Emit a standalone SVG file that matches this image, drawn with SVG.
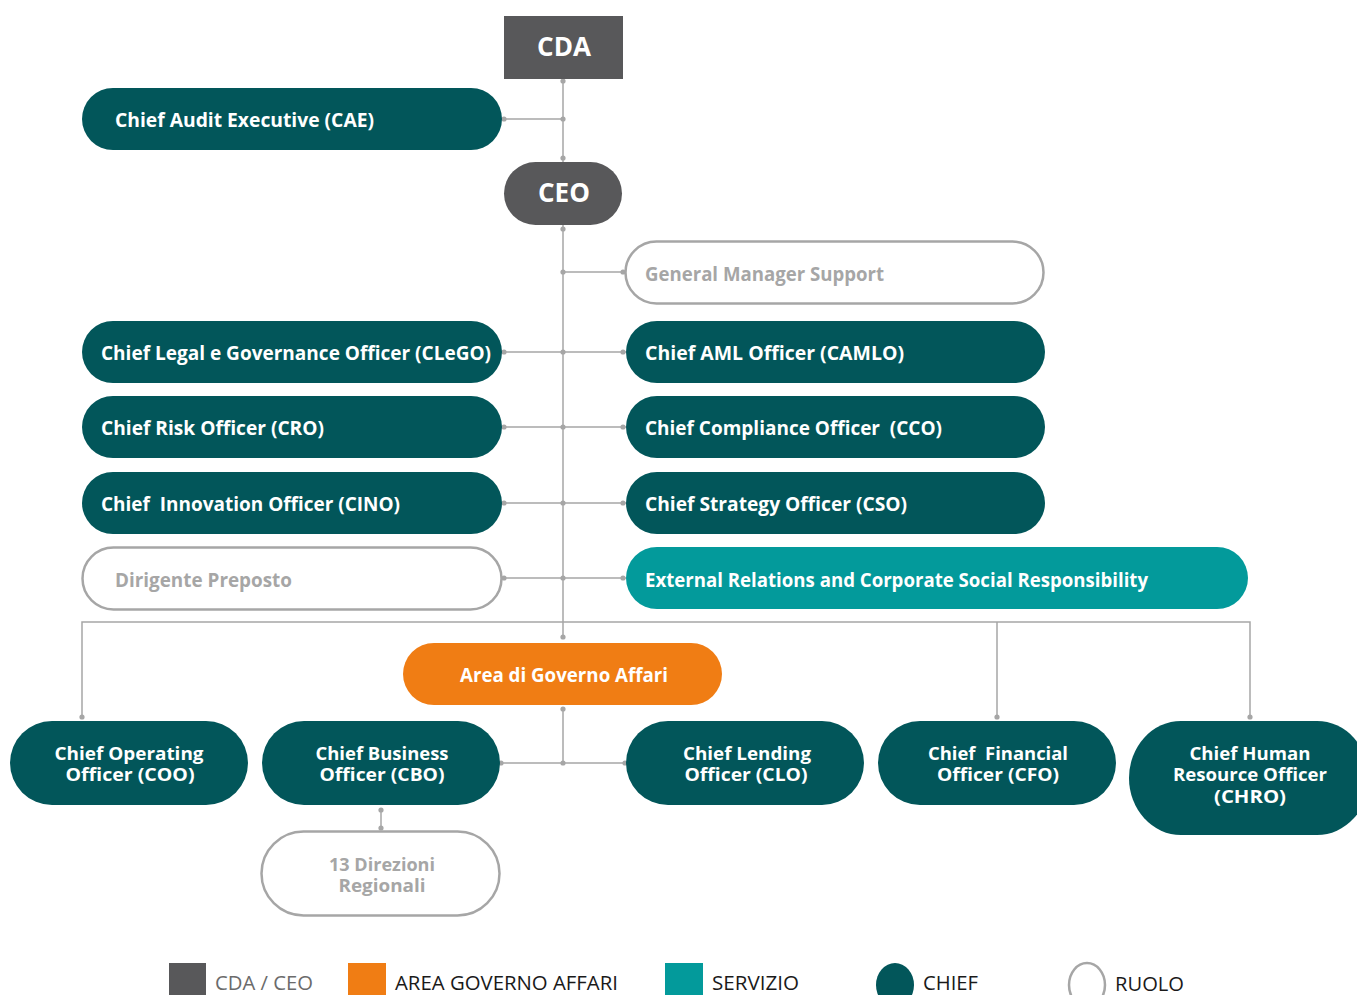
<svg xmlns="http://www.w3.org/2000/svg" width="1357" height="995" viewBox="0 0 1357 995">
<style>
.chief{fill:#02565a}
.gray{fill:#58585a}
.serv{fill:#039a9b}
.area{fill:#f07d14}
.ruolo{fill:#fff;stroke:#a6a6a6;stroke-width:2.5}
.t{font-family:"Open Sans","Noto Sans",sans-serif;font-weight:700;font-size:19.5px;fill:#fff}
.tc{font-family:"Open Sans","Noto Sans",sans-serif;font-weight:700;font-size:20px;fill:#fff;text-anchor:middle}
.t2{font-size:18px}
.big{font-size:26px}
.tg{fill:#a6a6a6}
.ln{stroke:#a6a6a6;stroke-width:1.5;fill:none}
.dot{fill:#a6a6a6}
.lg{font-family:"Open Sans","Noto Sans",sans-serif;font-weight:400;font-size:20px;fill:#1a1a1a}
.lgg{fill:#6b6b6b}
</style>
<rect width="1357" height="995" fill="#fff"/>
<g id="connectors">
<path class="ln" d="M563 79V637M502 119H563M563 272H624M502 352H626M502 427H626M502 503H626M502 578H626M82 717V622H1250V717M997 622V717M563 709V763M501 763H625M381 809V828"/>
<g class="dot">
<circle cx="563" cy="81" r="2.6"/><circle cx="563" cy="119" r="2.6"/><circle cx="504" cy="119" r="2.6"/><circle cx="563" cy="158" r="2.6"/><circle cx="563" cy="229" r="2.6"/>
<circle cx="563" cy="272" r="2.6"/><circle cx="623" cy="272" r="2.6"/>
<circle cx="504" cy="352" r="2.6"/><circle cx="563" cy="352" r="2.6"/><circle cx="623" cy="352" r="2.6"/>
<circle cx="504" cy="427" r="2.6"/><circle cx="563" cy="427" r="2.6"/><circle cx="623" cy="427" r="2.6"/>
<circle cx="504" cy="503" r="2.6"/><circle cx="563" cy="503" r="2.6"/><circle cx="623" cy="503" r="2.6"/>
<circle cx="504" cy="578" r="2.6"/><circle cx="563" cy="578" r="2.6"/><circle cx="623" cy="578" r="2.6"/>
<circle cx="563" cy="637" r="2.6"/><circle cx="82" cy="717" r="2.6"/><circle cx="997" cy="717" r="2.6"/><circle cx="1250" cy="717" r="2.6"/>
<circle cx="563" cy="709" r="2.6"/><circle cx="501" cy="763" r="2.6"/><circle cx="563" cy="763" r="2.6"/><circle cx="625" cy="763" r="2.6"/>
<circle cx="381" cy="810" r="2.6"/><circle cx="381" cy="828" r="2.6"/>
</g>
</g>
<g id="cda"><rect class="gray" x="504" y="16" width="119" height="63"/><text class="tc big" x="564" y="56" textLength="54" lengthAdjust="spacingAndGlyphs">CDA</text></g>
<g id="cae"><rect class="chief" x="82" y="88" width="420" height="62" rx="31"/><text class="t" x="115" y="127" textLength="259" lengthAdjust="spacingAndGlyphs">Chief Audit Executive (CAE)</text></g>
<g id="ceo"><rect class="gray" x="504" y="162" width="118" height="63" rx="31.5"/><text class="tc big" x="564" y="202" textLength="52" lengthAdjust="spacingAndGlyphs">CEO</text></g>
<g id="gms"><rect class="ruolo" x="625.5" y="241.5" width="418" height="62" rx="31"/><text class="t tg" x="645" y="281" textLength="239" lengthAdjust="spacingAndGlyphs">General Manager Support</text></g>
<g id="clego"><rect class="chief" x="82" y="321" width="420" height="62" rx="31"/><text class="t" x="101" y="360" textLength="390" lengthAdjust="spacingAndGlyphs">Chief Legal e Governance Officer (CLeGO)</text></g>
<g id="camlo"><rect class="chief" x="626" y="321" width="419" height="62" rx="31"/><text class="t" x="645" y="360" textLength="259" lengthAdjust="spacingAndGlyphs">Chief AML Officer (CAMLO)</text></g>
<g id="cro"><rect class="chief" x="82" y="396" width="420" height="62" rx="31"/><text class="t" x="101" y="435" textLength="223" lengthAdjust="spacingAndGlyphs">Chief Risk Officer (CRO)</text></g>
<g id="cco"><rect class="chief" x="626" y="396" width="419" height="62" rx="31"/><text class="t" x="645" y="435" textLength="297" lengthAdjust="spacingAndGlyphs" xml:space="preserve">Chief Compliance Officer  (CCO)</text></g>
<g id="cino"><rect class="chief" x="82" y="472" width="420" height="62" rx="31"/><text class="t" x="101" y="511" textLength="299" lengthAdjust="spacingAndGlyphs" xml:space="preserve">Chief  Innovation Officer (CINO)</text></g>
<g id="cso"><rect class="chief" x="626" y="472" width="419" height="62" rx="31"/><text class="t" x="645" y="511" textLength="262" lengthAdjust="spacingAndGlyphs">Chief Strategy Officer (CSO)</text></g>
<g id="dirigente"><rect class="ruolo" x="82.5" y="547.5" width="419" height="62" rx="31"/><text class="t tg" x="115" y="587" textLength="177" lengthAdjust="spacingAndGlyphs">Dirigente Preposto</text></g>
<g id="extrel"><rect class="serv" x="626" y="547" width="622" height="62" rx="31"/><text class="t" x="645" y="587" textLength="503" lengthAdjust="spacingAndGlyphs">External Relations and Corporate Social Responsibility</text></g>
<g id="area"><rect class="area" x="403" y="643" width="319" height="62" rx="31"/><text class="tc" x="564" y="682" textLength="208" lengthAdjust="spacingAndGlyphs">Area di Governo Affari</text></g>
<g id="coo"><rect class="chief" x="10" y="721" width="238" height="84" rx="42"/><text class="tc t2" x="129" y="760" textLength="149" lengthAdjust="spacingAndGlyphs">Chief Operating</text><text class="tc t2" x="130" y="781" textLength="129" lengthAdjust="spacingAndGlyphs">Officer (COO)</text></g>
<g id="cbo"><rect class="chief" x="262" y="721" width="238" height="84" rx="42"/><text class="tc t2" x="382" y="760" textLength="133" lengthAdjust="spacingAndGlyphs">Chief Business</text><text class="tc t2" x="382" y="781" textLength="125" lengthAdjust="spacingAndGlyphs">Officer (CBO)</text></g>
<g id="clo"><rect class="chief" x="626" y="721" width="238" height="84" rx="42"/><text class="tc t2" x="747" y="760" textLength="128" lengthAdjust="spacingAndGlyphs">Chief Lending</text><text class="tc t2" x="746" y="781" textLength="123" lengthAdjust="spacingAndGlyphs">Officer (CLO)</text></g>
<g id="cfo"><rect class="chief" x="878" y="721" width="238" height="84" rx="42"/><text class="tc t2" x="998" y="760" textLength="140" lengthAdjust="spacingAndGlyphs" xml:space="preserve">Chief  Financial</text><text class="tc t2" x="998" y="781" textLength="122" lengthAdjust="spacingAndGlyphs">Officer (CFO)</text></g>
<g id="chro"><rect class="chief" x="1129" y="721" width="240" height="114" rx="52" ry="57"/><text class="tc t2" x="1250" y="760" textLength="121" lengthAdjust="spacingAndGlyphs">Chief Human</text><text class="tc t2" x="1250" y="781" textLength="154" lengthAdjust="spacingAndGlyphs">Resource Officer</text><text class="tc t2" x="1250" y="803" textLength="72" lengthAdjust="spacingAndGlyphs">(CHRO)</text></g>
<g id="direzioni"><rect class="ruolo" x="261.5" y="831.5" width="238" height="84" rx="42"/><text class="tc t2 tg" x="382" y="871" textLength="106" lengthAdjust="spacingAndGlyphs">13 Direzioni</text><text class="tc t2 tg" x="382" y="892" textLength="87" lengthAdjust="spacingAndGlyphs">Regionali</text></g>
<g id="legend">
<rect class="gray" x="169" y="963" width="37" height="34"/><text class="lg lgg" x="215" y="990" textLength="98" lengthAdjust="spacingAndGlyphs">CDA / CEO</text>
<rect class="area" x="348" y="963" width="38" height="34"/><text class="lg" x="395" y="990" textLength="223" lengthAdjust="spacingAndGlyphs">AREA GOVERNO AFFARI</text>
<rect class="serv" x="665" y="963" width="38" height="34"/><text class="lg" x="712" y="990" textLength="87" lengthAdjust="spacingAndGlyphs">SERVIZIO</text>
<ellipse class="chief" cx="895" cy="985" rx="19" ry="22"/><text class="lg" x="923" y="990" textLength="55" lengthAdjust="spacingAndGlyphs">CHIEF</text>
<ellipse class="ruolo" cx="1087" cy="985" rx="18" ry="22"/><text class="lg" x="1115" y="991" textLength="69" lengthAdjust="spacingAndGlyphs">RUOLO</text>
</g>
</svg>
